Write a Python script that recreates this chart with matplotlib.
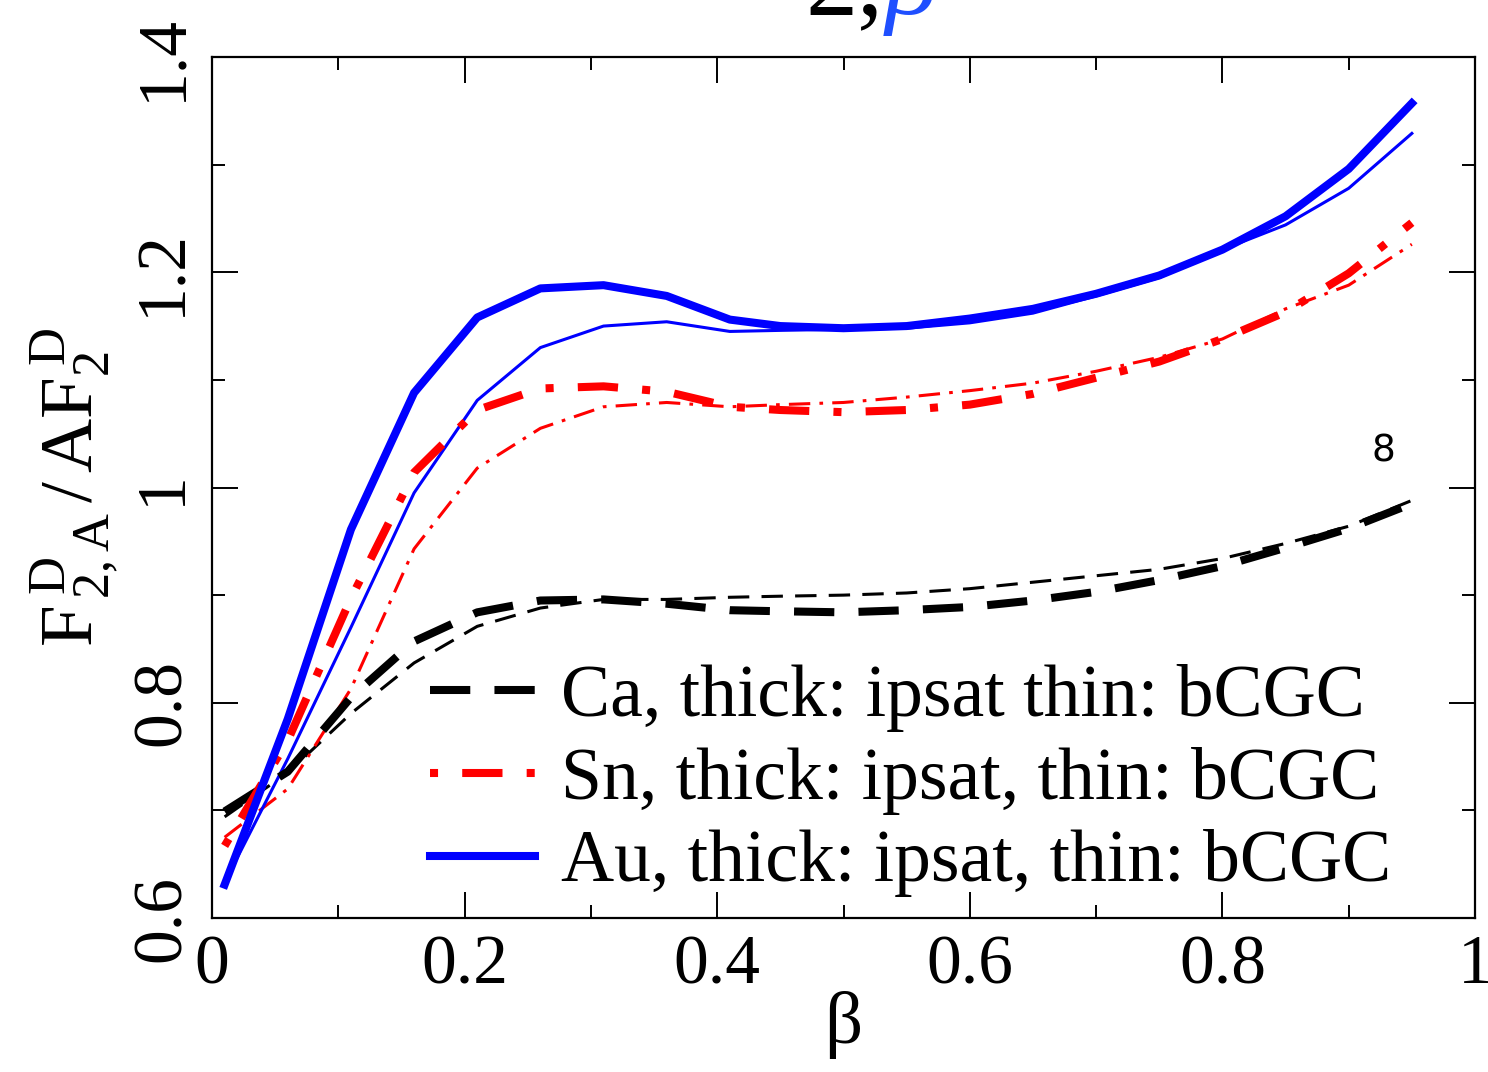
import matplotlib
matplotlib.use("Agg")
import matplotlib.pyplot as plt
from matplotlib.ticker import MultipleLocator

plt.rcParams['font.family'] = ['Liberation Serif', 'DejaVu Serif']
plt.rcParams['mathtext.fontset'] = 'custom'
plt.rcParams['mathtext.rm'] = 'Liberation Serif'
plt.rcParams['mathtext.it'] = 'Liberation Serif:italic'

beta = [0.01, 0.06, 0.11, 0.16, 0.21, 0.26, 0.31, 0.36, 0.41, 0.45,
        0.50, 0.55, 0.60, 0.65, 0.70, 0.75, 0.80, 0.85, 0.90, 0.95]

au_ipsat = [0.631, 0.785, 0.961, 1.088, 1.158, 1.185, 1.188, 1.178, 1.156, 1.150,
            1.148, 1.150, 1.157, 1.166, 1.180, 1.197, 1.221, 1.252, 1.296, 1.357]
au_bcgc = [0.633, 0.748, 0.870, 0.995, 1.081, 1.130, 1.150, 1.154, 1.145, 1.146,
           1.147, 1.148, 1.153, 1.162, 1.178, 1.195, 1.221, 1.244, 1.278, 1.329]
sn_ipsat = [0.667, 0.765, 0.897, 1.014, 1.072, 1.092, 1.094, 1.089, 1.075, 1.072,
            1.070, 1.072, 1.077, 1.087, 1.102, 1.117, 1.138, 1.163, 1.199, 1.246]
sn_bcgc = [0.675, 0.720, 0.813, 0.943, 1.018, 1.055, 1.075, 1.079, 1.075, 1.077,
           1.079, 1.084, 1.090, 1.097, 1.108, 1.121, 1.138, 1.166, 1.188, 1.226]
ca_ipsat = [0.699, 0.736, 0.805, 0.857, 0.884, 0.895, 0.896, 0.892, 0.886, 0.885,
            0.884, 0.886, 0.889, 0.895, 0.903, 0.914, 0.927, 0.944, 0.962, 0.985]
ca_bcgc = [0.694, 0.735, 0.790, 0.837, 0.871, 0.888, 0.896, 0.896, 0.898, 0.899,
           0.900, 0.902, 0.906, 0.912, 0.918, 0.924, 0.934, 0.948, 0.964, 0.988]

labels = ["Ca, thick: ipsat thin: bCGC",
          "Sn, thick: ipsat, thin: bCGC",
          "Au, thick: ipsat, thin: bCGC"]

xticks = [0, 0.2, 0.4, 0.6, 0.8, 1]
xticklabels = ["0", "0.2", "0.4", "0.6", "0.8", "1"]
yticks = [0.6, 0.8, 1.0, 1.2, 1.4]
yticklabels = ["0.6", "0.8", "1", "1.2", "1.4"]

fig = plt.figure(figsize=(14.88, 10.72), dpi=100)
ax = fig.add_axes([212/1488, 1 - 918/1072, (1475-212)/1488, (918-57)/1072])

THICK = 5.8
THIN = 2.2

# thin lines (bCGC)
ax.plot(beta, ca_bcgc, color='black', lw=THIN, dashes=(7, 4))
ax.plot(beta, sn_bcgc, color='red', lw=THIN, dashes=(7, 3, 1.2, 3))
ax.plot(beta, au_bcgc, color='blue', lw=THIN)
# thick lines (ipsat)
l1, = ax.plot(beta, ca_ipsat, color='black', lw=THICK, dashes=(5, 3))
l2, = ax.plot(beta, sn_ipsat, color='red', lw=THICK, dashes=(1, 3, 5, 3))
l3, = ax.plot(beta, au_ipsat, color='blue', lw=THICK)

ax.set_xlim(0, 1)
ax.set_ylim(0.6, 1.4)
ax.set_xticks(xticks)
ax.set_xticklabels(xticklabels)
ax.set_yticks(yticks)
ax.set_yticklabels(yticklabels, rotation=90, va='center')
ax.xaxis.set_minor_locator(MultipleLocator(0.1))
ax.yaxis.set_minor_locator(MultipleLocator(0.1))
ax.tick_params(which='both', direction='in', top=True, right=True, width=1.4)
ax.tick_params(which='major', length=19, labelsize=50, pad=12)
ax.tick_params(which='minor', length=9.5)
for s in ax.spines.values():
    s.set_linewidth(1.6)

ax.set_xlabel(r"β", fontsize=54)
ax.xaxis.set_label_coords(0.5, -0.085)
ax.set_ylabel(r"$\mathrm{F}^{\;\mathrm{D}}_{\,2,\mathrm{A}}\,/\,\mathrm{AF}_{2}^{\;\mathrm{D}}$", fontsize=54)
ax.yaxis.set_label_coords(-0.072, 0.5)

leg = ax.legend([l1, l2, l3], labels, loc='upper left', bbox_to_anchor=(0.1726, 0.295),
                frameon=False, fontsize=53, handlelength=1.42, handletextpad=0.36,
                labelspacing=0.2, borderpad=0, borderaxespad=0)

ax.text(1383, 1072 - 451, "8", transform=None, fontsize=27, family='DejaVu Sans',
        ha='center', va='center')

fig.text(883/1488, 1 - 14/1072, "2,", fontsize=75, ha='right', va='baseline', color='black')
fig.text(885/1488, 1 - 14/1072, "β", fontsize=75, ha='left', va='baseline',
         color='#1f4fff', style='italic')

fig.savefig("out.png", dpi=100)
